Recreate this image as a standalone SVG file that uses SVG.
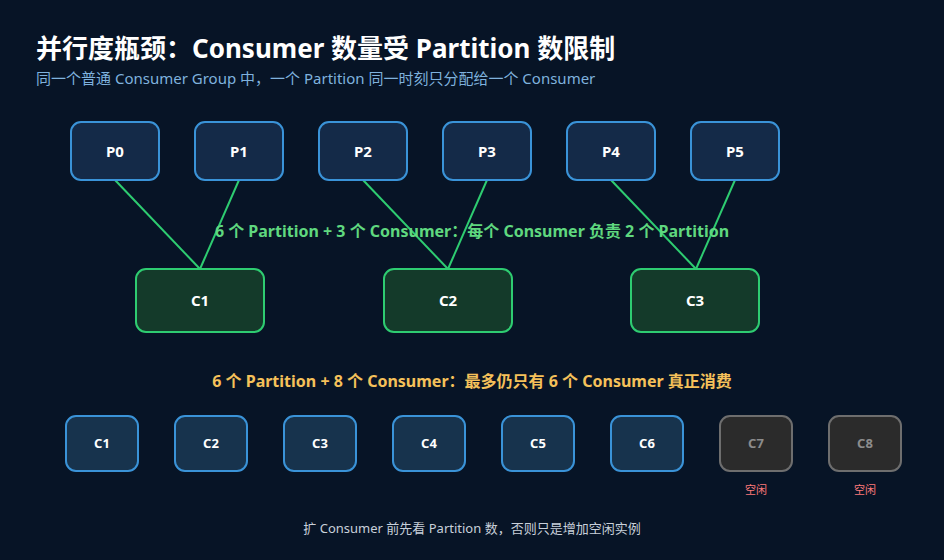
<svg xmlns="http://www.w3.org/2000/svg" width="944" height="560" viewBox="0 0 944 560">
<style>
text{font-family:"Noto Sans","Noto Sans CJK SC",sans-serif}
.p{fill:#142a48;stroke:#3a93d8;stroke-width:2}
.c{fill:#143a2a;stroke:#2ecc71;stroke-width:2}
.b{fill:#17334d;stroke:#3a93d8;stroke-width:2}
.g{fill:#2b2b2b;stroke:#6e6e6e;stroke-width:2}
.t{fill:#fff;font-size:15px;font-weight:bold;text-anchor:middle}
.ts{fill:#fff;font-size:13px;font-weight:bold;text-anchor:middle}
.tg{fill:#8c8c8c;font-size:13px;font-weight:bold;text-anchor:middle}
.idle{fill:#ff7b7b;font-size:11px;text-anchor:middle}
.ln{stroke:#2ecc71;stroke-width:2}
</style>
<rect width="944" height="560" fill="#071426"/>
<text x="36" y="58" fill="#fff" font-size="26" font-weight="bold">并行度瓶颈：Consumer 数量受 Partition 数限制</text>
<text x="36" y="84" fill="#7fb2de" font-size="15">同一个普通 Consumer Group 中，一个 Partition 同一时刻只分配给一个 Consumer</text>
<g id="connectors">
<line class="ln" x1="115" y1="180" x2="200" y2="269"/>
<line class="ln" x1="239" y1="180" x2="200" y2="269"/>
<line class="ln" x1="363" y1="180" x2="448" y2="269"/>
<line class="ln" x1="487" y1="180" x2="448" y2="269"/>
<line class="ln" x1="611" y1="180" x2="696" y2="269"/>
<line class="ln" x1="735" y1="180" x2="696" y2="269"/>
</g>
<g id="P0"><rect class="p" x="71" y="122" width="88" height="58" rx="10"/><text class="t" x="115" y="157">P0</text></g>
<g id="P1"><rect class="p" x="195" y="122" width="88" height="58" rx="10"/><text class="t" x="239" y="157">P1</text></g>
<g id="P2"><rect class="p" x="319" y="122" width="88" height="58" rx="10"/><text class="t" x="363" y="157">P2</text></g>
<g id="P3"><rect class="p" x="443" y="122" width="88" height="58" rx="10"/><text class="t" x="487" y="157">P3</text></g>
<g id="P4"><rect class="p" x="567" y="122" width="88" height="58" rx="10"/><text class="t" x="611" y="157">P4</text></g>
<g id="P5"><rect class="p" x="691" y="122" width="88" height="58" rx="10"/><text class="t" x="735" y="157">P5</text></g>
<text x="472" y="237" fill="#5fd87f" font-size="16" font-weight="bold" text-anchor="middle">6 个 Partition + 3 个 Consumer：每个 Consumer 负责 2 个 Partition</text>
<g id="C1"><rect class="c" x="136" y="269" width="128" height="63" rx="10"/><text class="t" x="200" y="306">C1</text></g>
<g id="C2"><rect class="c" x="384" y="269" width="128" height="63" rx="10"/><text class="t" x="448" y="306">C2</text></g>
<g id="C3"><rect class="c" x="631" y="269" width="128" height="63" rx="10"/><text class="t" x="695" y="306">C3</text></g>
<text x="472" y="387" fill="#f5c15a" font-size="16" font-weight="bold" text-anchor="middle">6 个 Partition + 8 个 Consumer：最多仍只有 6 个 Consumer 真正消费</text>
<g id="B1"><rect class="b" x="66" y="416" width="72" height="55" rx="10"/><text class="ts" x="102" y="448">C1</text></g>
<g id="B2"><rect class="b" x="175" y="416" width="72" height="55" rx="10"/><text class="ts" x="211" y="448">C2</text></g>
<g id="B3"><rect class="b" x="284" y="416" width="72" height="55" rx="10"/><text class="ts" x="320" y="448">C3</text></g>
<g id="B4"><rect class="b" x="393" y="416" width="72" height="55" rx="10"/><text class="ts" x="429" y="448">C4</text></g>
<g id="B5"><rect class="b" x="502" y="416" width="72" height="55" rx="10"/><text class="ts" x="538" y="448">C5</text></g>
<g id="B6"><rect class="b" x="611" y="416" width="72" height="55" rx="10"/><text class="ts" x="647" y="448">C6</text></g>
<g id="B7"><rect class="g" x="720" y="416" width="72" height="55" rx="10"/><text class="tg" x="756" y="448">C7</text><text class="idle" x="756" y="494">空闲</text></g>
<g id="B8"><rect class="g" x="829" y="416" width="72" height="55" rx="10"/><text class="tg" x="865" y="448">C8</text><text class="idle" x="865" y="494">空闲</text></g>
<text x="472" y="533" fill="#c8d0da" font-size="13" text-anchor="middle">扩 Consumer 前先看 Partition 数，否则只是增加空闲实例</text>
</svg>
